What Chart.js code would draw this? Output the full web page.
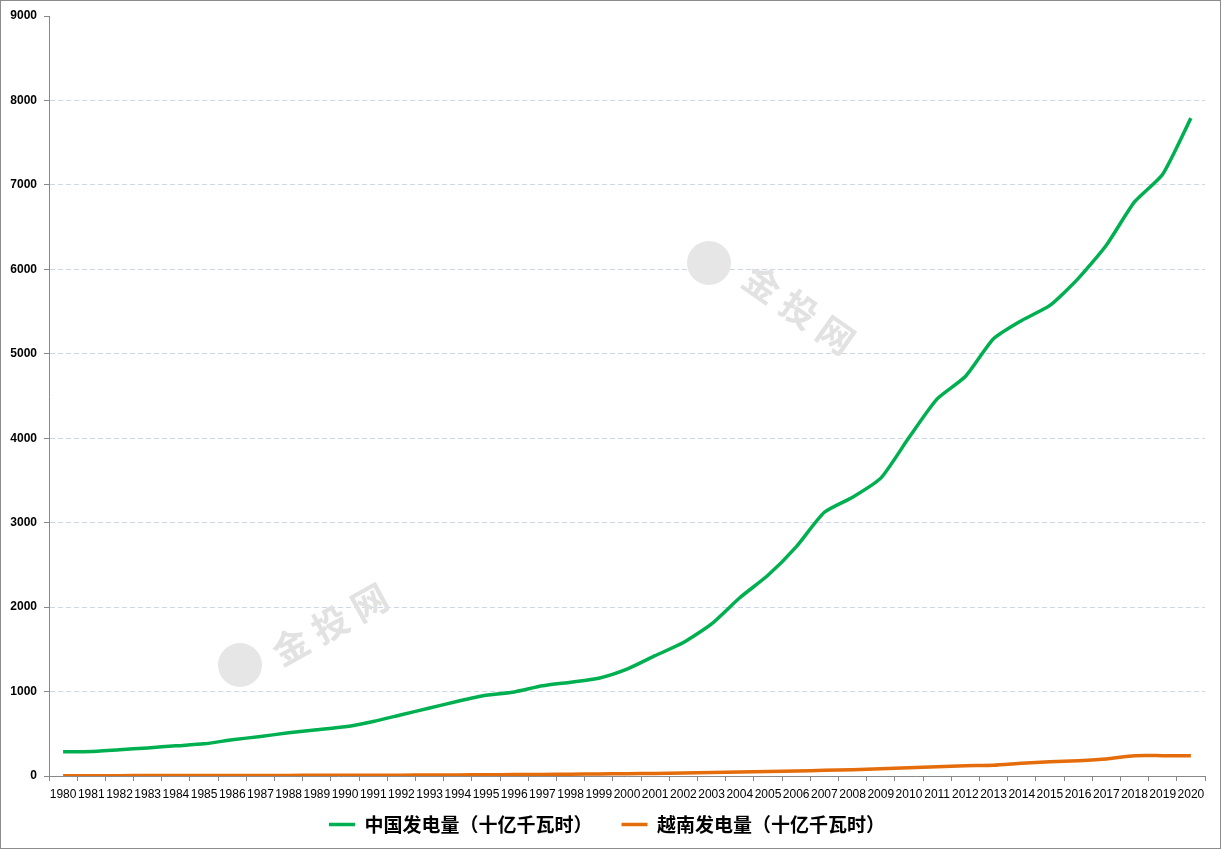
<!DOCTYPE html>
<html>
<head>
<meta charset="utf-8">
<title>中国与越南发电量</title>
<script src="https://cdn.jsdelivr.net/npm/chart.js@4.4.0/dist/chart.umd.min.js"></script>
<style>
  body { margin: 0; background: #fff; }
  #wrap { width: 1219px; height: 847px; border: 1px solid #8c8c8c; position: relative; }
</style>
</head>
<body>
<div id="wrap"><canvas id="myChart"></canvas></div>
<script>
// years on the x axis
const years = ['1980', '1981', '1982', '1983', '1984', '1985', '1986', '1987', '1988', '1989',
  '1990', '1991', '1992', '1993', '1994', '1995', '1996', '1997', '1998', '1999',
  '2000', '2001', '2002', '2003', '2004', '2005', '2006', '2007', '2008', '2009',
  '2010', '2011', '2012', '2013', '2014', '2015', '2016', '2017', '2018', '2019', '2020'];

// 中国发电量（十亿千瓦时）
const chinaOutput = [286, 290, 310, 333, 357, 381, 429, 468, 512, 548,
  583, 646, 726, 805, 885, 956, 995, 1068, 1111, 1158,
  1265, 1425, 1580, 1801, 2111, 2377, 2714, 3123, 3301, 3527,
  4008, 4466, 4731, 5178, 5395, 5573, 5890, 6285, 6798, 7127, 7791];

// 越南发电量（十亿千瓦时）
const vietnamOutput = [4, 4, 4, 5, 5, 5, 6, 6, 7, 8,
  9, 9, 10, 11, 13, 15, 17, 19, 22, 24,
  27, 31, 36, 41, 46, 53, 59, 67, 75, 87,
  98, 110, 122, 126, 150, 168, 182, 202, 240, 241, 241];

const seriesNames = ['中国发电量（十亿千瓦时）', '越南发电量（十亿千瓦时）'];
const yMax = 9000;
const yStep = 1000;

// faint site watermarks drawn under the lines
const watermark = {
  id: 'watermark',
  beforeDatasetsDraw(chart) {
    const ctx = chart.ctx;
    const marks = [
      { cx: 708, cy: 262, tx: 802, ty: 311, angle: 35 },
      { cx: 239, cy: 664, tx: 333, ty: 621, angle: -29 },
    ];
    ctx.save();
    marks.forEach((m) => {
      ctx.fillStyle = '#e6e6e6';
      ctx.beginPath();
      ctx.arc(m.cx, m.cy, 22, 0, Math.PI * 2);
      ctx.fill();
      ctx.save();
      ctx.translate(m.tx, m.ty);
      ctx.rotate((m.angle * Math.PI) / 180);
      ctx.font = 'bold 36px "Noto Sans CJK SC"';
      ctx.letterSpacing = '9px';
      ctx.fillStyle = '#e2e2e2';
      ctx.textAlign = 'center';
      ctx.textBaseline = 'middle';
      ctx.fillText('金投网', 0, 0);
      ctx.restore();
    });
    ctx.restore();
  },
};

// pull the legend up closer to the year labels (its padding is only wanted sideways)
const legendShift = {
  id: 'legendShift',
  afterLayout(chart) {
    chart.legend.top -= 15;
    chart.legend.bottom -= 15;
    chart.legend.left += 4;
    chart.legend.right += 4;
  },
};

new Chart(document.getElementById('myChart'), {
  type: 'line',
  data: {
    labels: years,
    datasets: [
      {
        label: seriesNames[0],
        data: chinaOutput,
        borderColor: '#00b050',
        backgroundColor: '#00b050',
        borderWidth: 3.5,
        pointRadius: 0,
        tension: 0.2,
      },
      {
        label: seriesNames[1],
        data: vietnamOutput,
        borderColor: '#e46c0a',
        backgroundColor: '#e46c0a',
        borderWidth: 3.5,
        pointRadius: 0,
        tension: 0.2,
      },
    ],
  },
  options: {
    responsive: true,
    maintainAspectRatio: false,
    animation: false,
    layout: { padding: { top: 15, right: 15, bottom: -11, left: 0 } },
    plugins: {
      tooltip: { enabled: false },
      legend: {
        position: 'bottom',
        labels: {
          usePointStyle: true,
          pointStyle: 'line',
          pointStyleWidth: 26,
          padding: 29,
          color: '#000',
          font: { family: '"Noto Sans CJK SC"', size: 19, weight: 'bold' },
        },
      },
    },
    scales: {
      x: {
        offset: true,
        afterFit(scale) {
          scale.height = 25;
        },
        grid: {
          offset: true,
          drawOnChartArea: false,
          tickLength: 5,
          tickColor: '#888',
        },
        border: { color: '#888' },
        ticks: {
          autoSkip: false,
          maxRotation: 0,
          padding: 6,
          color: '#000',
          font: { family: '"Liberation Sans"', size: 12 },
        },
      },
      y: {
        min: 0,
        max: yMax,
        afterFit(scale) {
          scale.width = 48;
        },
        grid: {
          color: (c) => (c.tick && (c.tick.value === 0 || c.tick.value === yMax) ? 'rgba(0,0,0,0)' : '#cbd6e6'),
          tickColor: '#888',
          tickLength: 5,
          tickBorderDash: [],
        },
        border: { color: '#888', dash: [5, 3] },
        ticks: {
          stepSize: yStep,
          padding: 7,
          color: '#000',
          font: { family: '"Liberation Sans"', size: 12, weight: 'bold' },
          callback: (v) => String(v),
        },
      },
    },
  },
  plugins: [watermark, legendShift],
});
</script>
</body>
</html>
